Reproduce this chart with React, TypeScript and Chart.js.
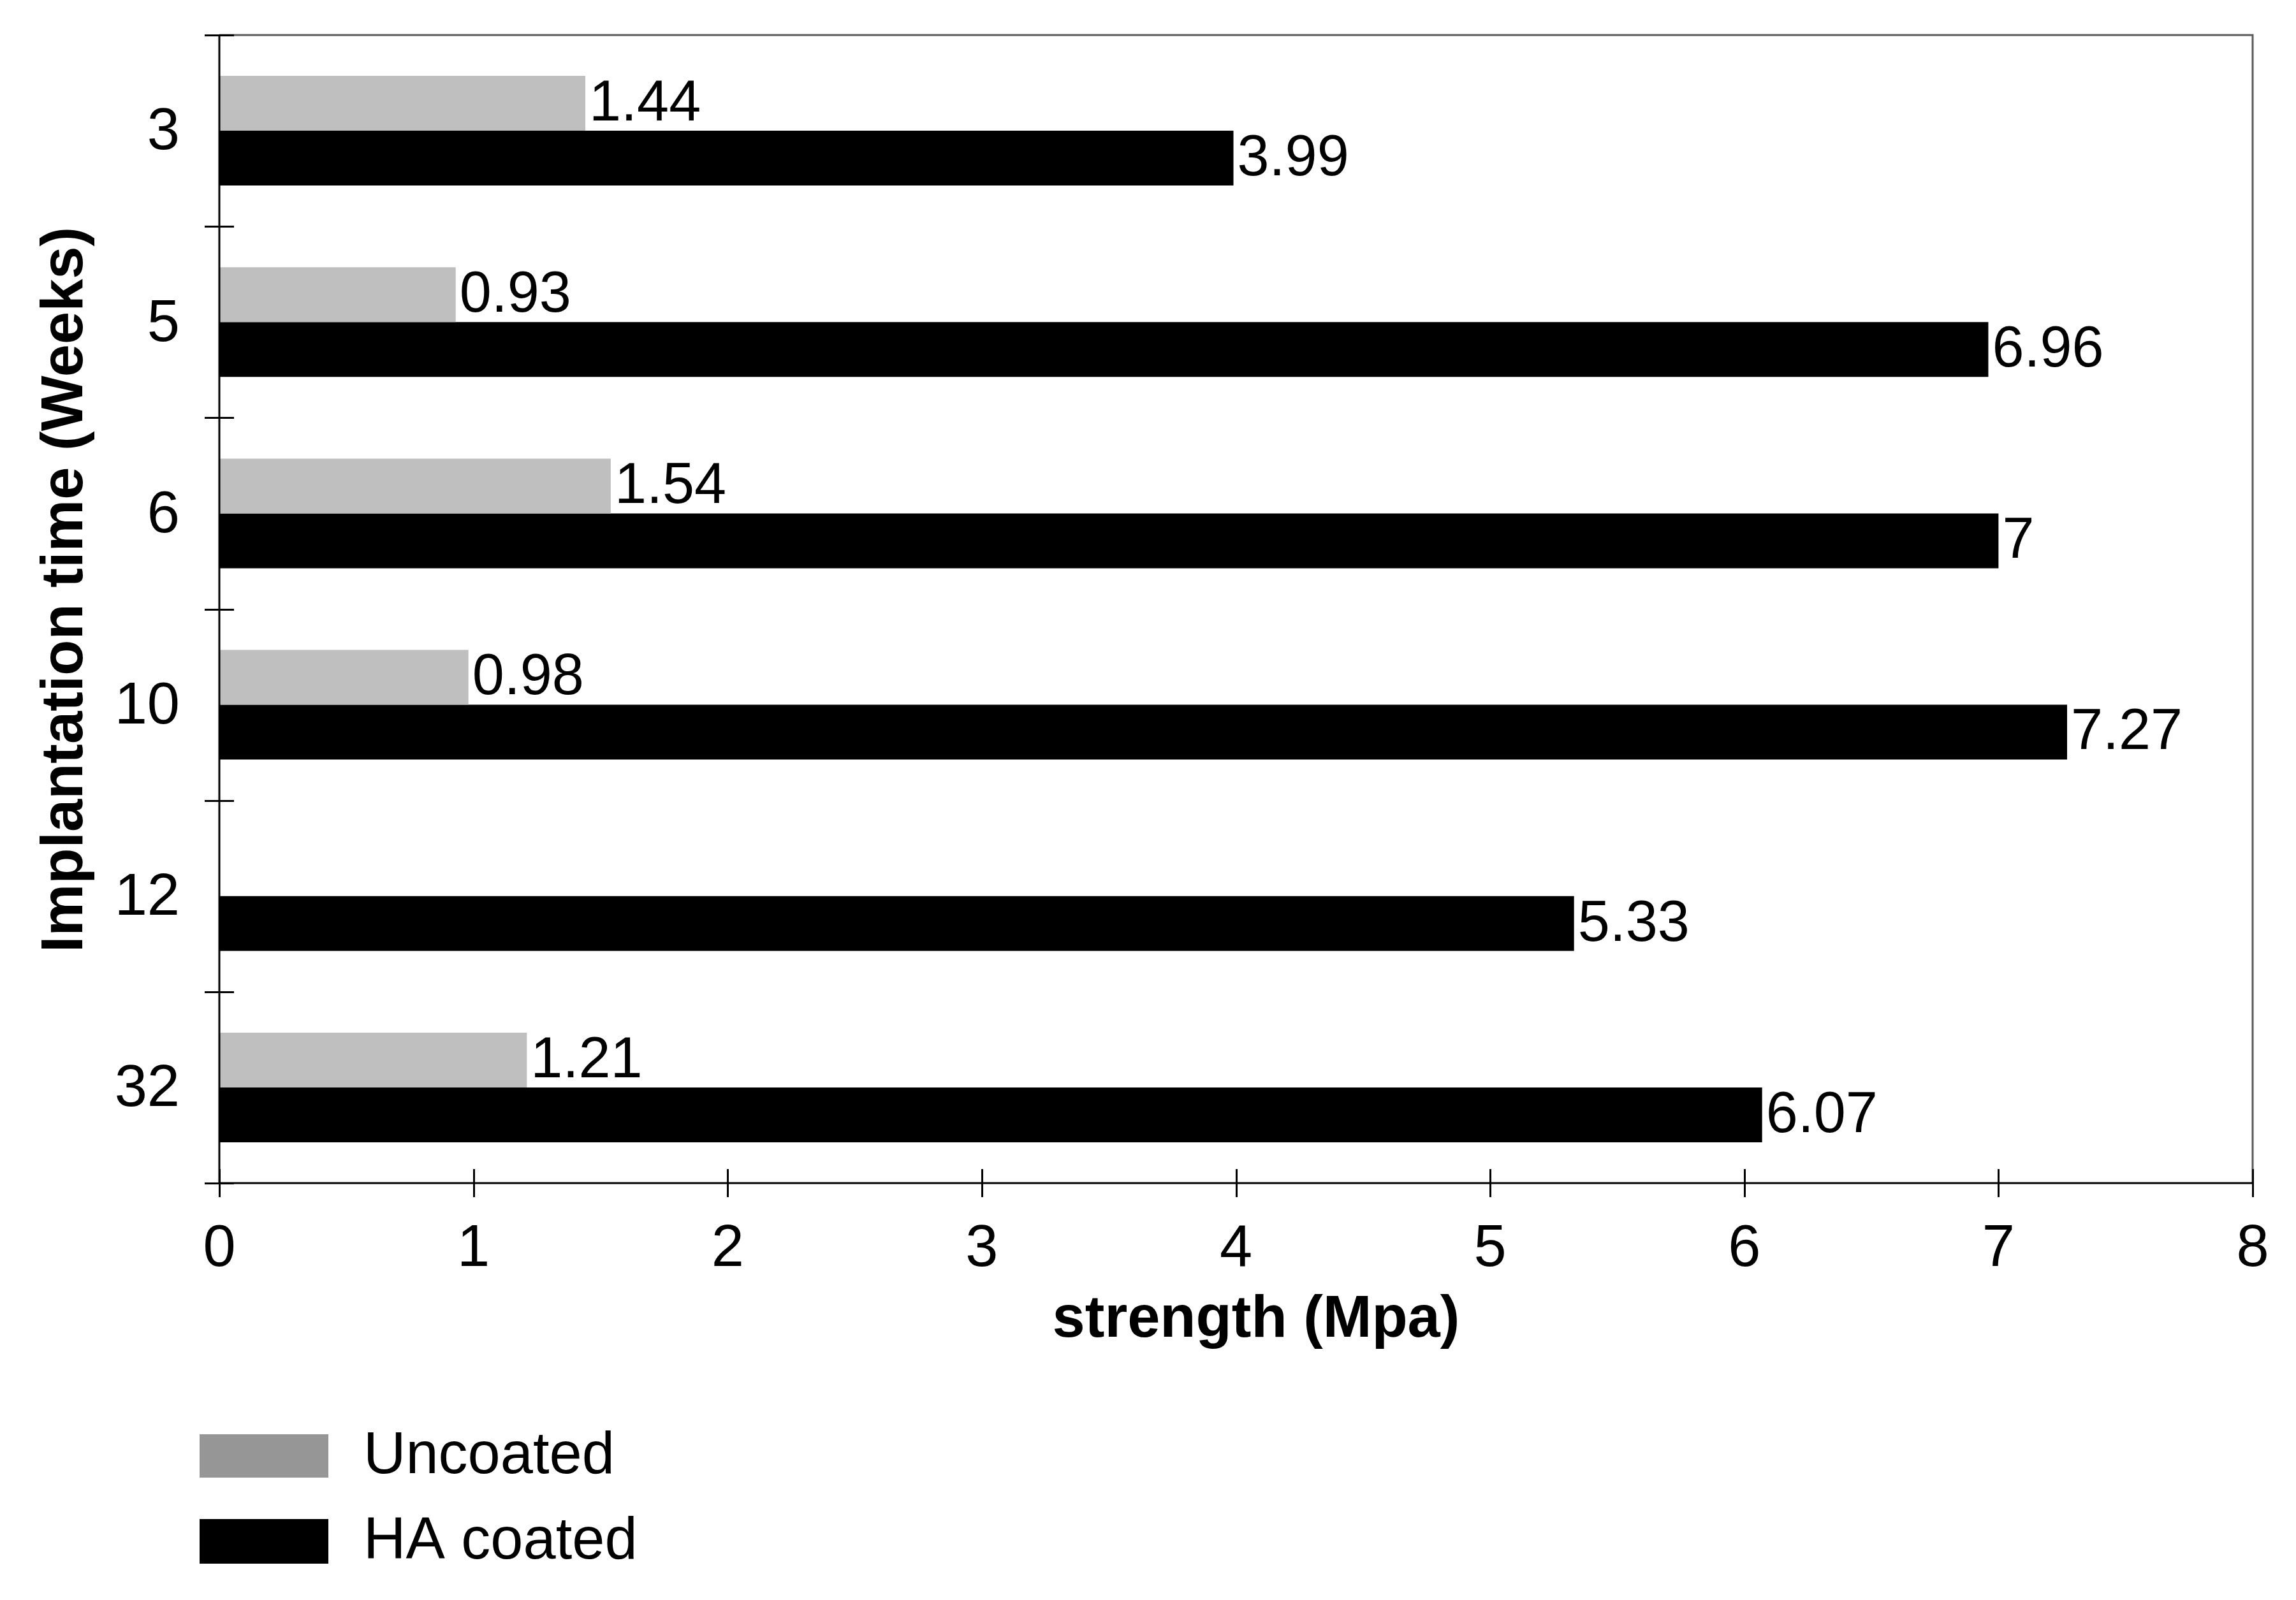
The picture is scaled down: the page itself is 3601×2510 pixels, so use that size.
import React, { useEffect, useRef } from "react";
import { Chart, registerables } from "chart.js";

Chart.register(...registerables);

// ---- data ----
const categories = ["3", "5", "6", "10", "12", "32"];
const uncoated: (number | null)[] = [1.44, 0.93, 1.54, 0.98, null, 1.21];
const haCoated: number[] = [3.99, 6.96, 7, 7.27, 5.33, 6.07];
const seriesLabels = ["Uncoated", "HA coated"];
const xTicksMin = 0;
const xTicksMax = 8;
const xTitle = "strength (Mpa)";
const yTitle = "Implantation time (Weeks)";

// ---- styles ----
const barColors = ["#bfbfbf", "#000000"];
const legendColors = ["#969696", "#000000"];
const FONT = "'Liberation Sans', Arial, Helvetica, sans-serif";
const W = 3601;
const H = 2510;

const decor = {
  id: "decor",
  afterDatasetsDraw(chart: any) {
    const ctx = chart.ctx;
    ctx.save();
    ctx.fillStyle = "#000";
    ctx.font = `90px ${FONT}`;
    ctx.textAlign = "left";
    ctx.textBaseline = "middle";
    chart.data.datasets.forEach((ds: any, di: number) => {
      const meta = chart.getDatasetMeta(di);
      meta.data.forEach((el: any, i: number) => {
        const v = ds.data[i];
        if (v === null || v === undefined) return;
        ctx.fillText(String(v), el.x + 6, el.y + 2);
      });
    });
    ctx.restore();
  },
  afterDraw(chart: any) {
    const ctx = chart.ctx;
    const area = chart.chartArea;
    const xs = chart.scales.x;
    const ys = chart.scales.y;
    ctx.save();
    // top and right frame
    ctx.strokeStyle = "#5a5a5a";
    ctx.lineWidth = 3;
    ctx.beginPath();
    ctx.moveTo(area.left, area.top);
    ctx.lineTo(area.right, area.top);
    ctx.lineTo(area.right, area.bottom);
    ctx.stroke();
    // axis lines
    ctx.strokeStyle = "#000";
    ctx.lineWidth = 3;
    ctx.beginPath();
    ctx.moveTo(area.left, area.top);
    ctx.lineTo(area.left, area.bottom);
    ctx.lineTo(area.right, area.bottom);
    ctx.stroke();
    // y tick marks at category boundaries
    ctx.beginPath();
    for (let i = 0; i <= categories.length; i++) {
      const y = Math.round(ys.getPixelForValue(i - 0.5)) + 0.5;
      ctx.moveTo(area.left - 23, y);
      ctx.lineTo(area.left + 23, y);
    }
    // x tick marks
    xs.ticks.forEach((t: any) => {
      const x = Math.round(xs.getPixelForValue(t.value)) + 0.5;
      ctx.moveTo(x, area.bottom - 22);
      ctx.lineTo(x, area.bottom + 22);
    });
    ctx.stroke();

    // axis titles
    ctx.fillStyle = "#000";
    ctx.font = `bold 92px ${FONT}`;
    ctx.textAlign = "center";
    ctx.textBaseline = "middle";
    ctx.fillText(xTitle, 1970, 2072);
    ctx.save();
    ctx.translate(104, 925);
    ctx.rotate(-Math.PI / 2);
    ctx.fillText(yTitle, 0, 0);
    ctx.restore();

    // legend
    const boxes = [
      { y0: 2250, y1: 2318 },
      { y0: 2383, y1: 2453 },
    ];
    ctx.font = `92px ${FONT}`;
    ctx.textAlign = "left";
    chart.data.datasets.forEach((ds: any, i: number) => {
      const b = boxes[i];
      ctx.fillStyle = legendColors[i];
      ctx.fillRect(313, b.y0, 202, b.y1 - b.y0);
      ctx.fillStyle = "#000";
      ctx.fillText(ds.label, 570, (b.y0 + b.y1) / 2 + 2);
    });
    ctx.restore();
  },
};

export default function App() {
  const ref = useRef<HTMLCanvasElement | null>(null);

  useEffect(() => {
    document.body.style.margin = "0";
    const canvas = ref.current;
    if (!canvas) return;
    Chart.defaults.font.family = FONT;
    Chart.defaults.color = "#000";
    const chart = new Chart(canvas, {
      type: "bar",
      data: {
        labels: categories,
        datasets: [
          {
            label: seriesLabels[0],
            data: uncoated,
            backgroundColor: barColors[0],
            borderWidth: 0,
            categoryPercentage: 0.573,
            barPercentage: 1,
          },
          {
            label: seriesLabels[1],
            data: haCoated,
            backgroundColor: barColors[1],
            borderWidth: 0,
            categoryPercentage: 0.573,
            barPercentage: 1,
          },
        ],
      },
      options: {
        indexAxis: "y",
        animation: false,
        responsive: false,
        devicePixelRatio: 1,
        layout: { padding: { left: 0, top: 55, right: 68, bottom: 454 } },
        plugins: {
          legend: { display: false },
          tooltip: { enabled: false },
          title: { display: false },
        },
        scales: {
          x: {
            type: "linear",
            min: xTicksMin,
            max: xTicksMax,
            ticks: {
              stepSize: 1,
              padding: 49,
              color: "#000",
              font: { size: 92, family: FONT },
            },
            grid: { display: false, drawTicks: false },
            border: { display: false },
            afterFit: (s: any) => {
              s.height = 200;
              s.paddingLeft = 0;
              s.paddingRight = 0;
              s.paddingTop = 0;
              s.paddingBottom = 0;
            },
          },
          y: {
            type: "category",
            ticks: {
              padding: 62,
              labelOffset: 4,
              color: "#000",
              font: { size: 92, family: FONT },
            },
            grid: { display: false, drawTicks: false },
            border: { display: false },
            afterFit: (s: any) => {
              s.width = 344;
              s.paddingLeft = 0;
              s.paddingRight = 0;
              s.paddingTop = 0;
              s.paddingBottom = 0;
            },
          },
        },
      },
      plugins: [decor],
    } as any);
    return () => chart.destroy();
  }, []);

  return (
    <div style={{ position: "absolute", left: 0, top: 0, width: W, height: H, background: "#fff" }}>
      <canvas ref={ref} width={W} height={H} style={{ width: W, height: H, display: "block" }} />
    </div>
  );
}
